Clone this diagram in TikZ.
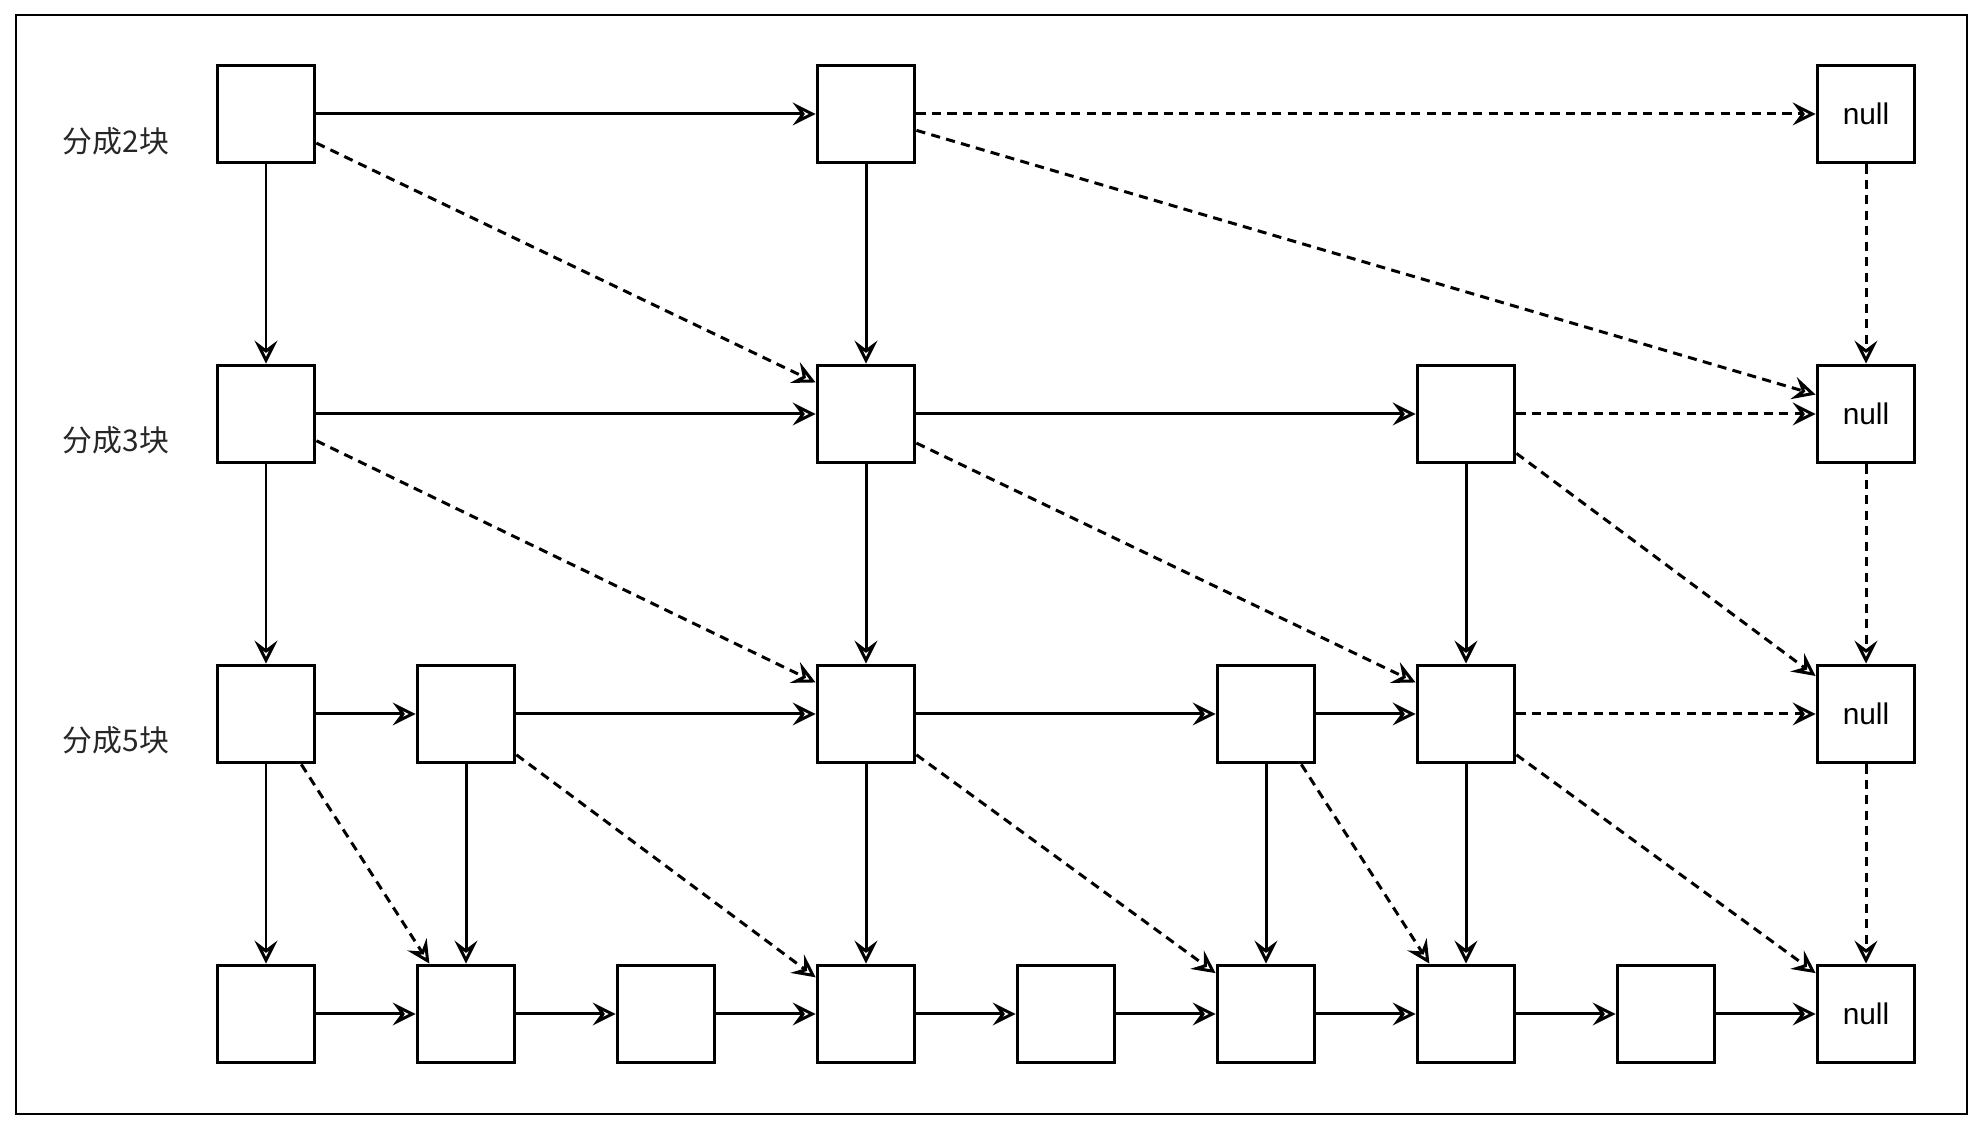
\documentclass[tikz,border=0pt]{standalone}
\usepackage{fontspec}
\setmainfont{Liberation Sans}
\newfontfamily\cjkfont{Noto Sans CJK SC}
\usepackage{tikz}
\usetikzlibrary{arrows.meta}

\begin{document}
\begin{tikzpicture}[
  x=1cm,
  y=1cm,
  font=\fontsize{8.5}{10}\selectfont,
  >={Stealth[open, length=6.5pt, width=6.5pt, inset=2.4pt, line width=0.85pt]},
  frame/.style={draw=black, line width=0.75pt},
  blk/.style={draw=black, line width=1.1pt, fill=white,
    minimum width=9.7mm, minimum height=9.7mm, inner sep=0pt},
  link/.style={->, line width=0.85pt, draw=black},
  jump/.style={->, line width=0.85pt, draw=black, dash pattern=on 2.6pt off 1.8pt},
  rowlabel/.style={font=\cjkfont\fontsize{8.5}{10}\selectfont, text=black!85}
]

\useasboundingbox (0,0) rectangle (19.83,11.30);
\draw[frame] (0.16,0.16) rectangle (19.67,11.15);

% level labels
\node[rowlabel] (la) at (1.16,9.89) {分成2块};
\node[rowlabel] (lb) at (1.16,6.90) {分成3块};
\node[rowlabel] (lc) at (1.16,3.90) {分成5块};

% top level
\node[blk] (a0) at (2.66,10.16) {};
\node[blk] (a3) at (8.66,10.16) {};
\node[blk] (a8) at (18.66,10.16) {null};

\node[blk] (b0) at (2.66,7.16) {};
\node[blk] (b3) at (8.66,7.16) {};
\node[blk] (b6) at (14.66,7.16) {};
\node[blk] (b8) at (18.66,7.16) {null};

\node[blk] (c0) at (2.66,4.16) {};
\node[blk] (c1) at (4.66,4.16) {};
\node[blk] (c3) at (8.66,4.16) {};
\node[blk] (c5) at (12.66,4.16) {};
\node[blk] (c6) at (14.66,4.16) {};
\node[blk] (c8) at (18.66,4.16) {null};

% bottom list
\node[blk] (d0) at (2.66,1.16) {};
\node[blk] (d1) at (4.66,1.16) {};
\node[blk] (d2) at (6.66,1.16) {};
\node[blk] (d3) at (8.66,1.16) {};
\node[blk] (d4) at (10.66,1.16) {};
\node[blk] (d5) at (12.66,1.16) {};
\node[blk] (d6) at (14.66,1.16) {};
\node[blk] (d7) at (16.66,1.16) {};
\node[blk] (d8) at (18.66,1.16) {null};

\draw[link] (a0) -- (a3);
\draw[jump] (a3) -- (a8);
\draw[jump] (a0.330) -- (b3.148);
\draw[jump] (a3.342) -- (b8.159);
\draw[link] (a0) -- (b0);
\draw[link] (a3) -- (b3);
\draw[jump] (a8) -- (b8);

\draw[link] (b0) -- (b3);
\draw[link] (b3) -- (b6);
\draw[jump] (b6) -- (b8);
\draw[jump] (b0.332) -- (c3.148);
\draw[jump] (b3.330) -- (c6.148);
\draw[jump] (b6.322) -- (c8.143);
\draw[link] (b0) -- (c0);
\draw[link] (b3) -- (c3);
\draw[link] (b6) -- (c6);
\draw[jump] (b8) -- (c8);

\draw[link] (c0) -- (c1);
\draw[link] (c1) -- (c3);
\draw[link] (c3) -- (c5);
\draw[link] (c5) -- (c6);
\draw[jump] (c6) -- (c8);
\draw[jump] (c0.305) -- (d1.126);
\draw[jump] (c1.321) -- (d3.144);
\draw[jump] (c3.321) -- (d5.141);
\draw[jump] (c5.305) -- (d6.126);
\draw[jump] (c6.321) -- (d8.141);
\draw[link] (c0) -- (d0);
\draw[link] (c1) -- (d1);
\draw[link] (c3) -- (d3);
\draw[link] (c5) -- (d5);
\draw[link] (c6) -- (d6);
\draw[jump] (c8) -- (d8);

\draw[link] (d0) -- (d1);
\draw[link] (d1) -- (d2);
\draw[link] (d2) -- (d3);
\draw[link] (d3) -- (d4);
\draw[link] (d4) -- (d5);
\draw[link] (d5) -- (d6);
\draw[link] (d6) -- (d7);
\draw[link] (d7) -- (d8);

\end{tikzpicture}
\end{document}
